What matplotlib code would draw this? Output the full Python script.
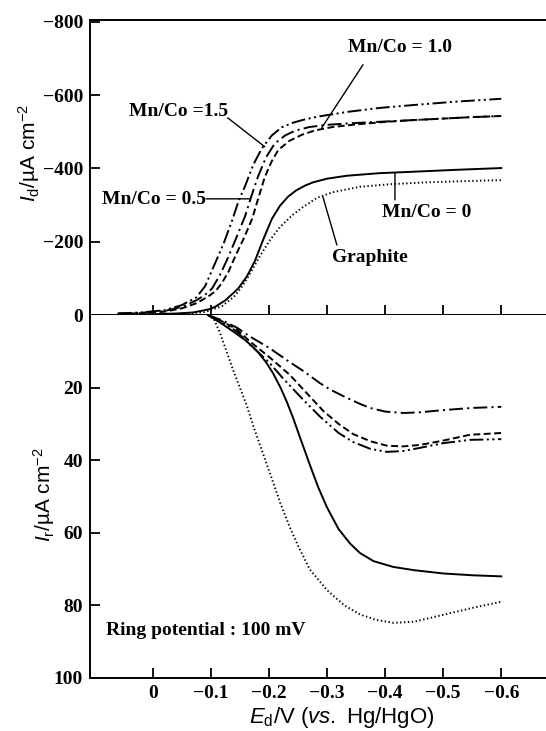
import matplotlib
matplotlib.use("Agg")
import matplotlib.pyplot as plt

# ---- data (E in V, currents in uA cm^-2) ----
# disk current, upper panel
E_d_15 = [0.06, 0.02, -0.02, -0.05, -0.075, -0.09, -0.107, -0.122, -0.136, -0.148, -0.159,
          -0.173, -0.188, -0.205, -0.222, -0.24, -0.26, -0.283, -0.334, -0.39, -0.449,
          -0.52, -0.6]
I_d_15 = [-4, -7, -13, -27, -48, -78, -140, -195, -255, -312, -352, -410, -455, -490,
          -512, -524, -533, -541, -554, -565, -573, -582, -590]

E_d_10 = [0.06, 0.02, -0.02, -0.05, -0.075, -0.09, -0.102, -0.116, -0.13, -0.145, -0.159,
          -0.17, -0.181, -0.195, -0.21, -0.228, -0.245, -0.27, -0.3, -0.35, -0.4, -0.45,
          -0.5, -0.55, -0.6]
I_d_10 = [-4, -6, -11, -22, -40, -55, -72, -110, -158, -215, -270, -325, -377, -430,
          -468, -490, -503, -513, -519, -524, -528, -532, -536, -540, -543]

E_d_05 = [0.06, 0.02, -0.02, -0.05, -0.075, -0.095, -0.108, -0.119, -0.131, -0.142,
          -0.157, -0.171, -0.182, -0.193, -0.205, -0.216, -0.235, -0.257, -0.28, -0.31,
          -0.35, -0.4, -0.45, -0.5, -0.55, -0.6]
I_d_05 = [-3, -5, -9, -18, -32, -50, -65, -87, -120, -160, -210, -262, -320, -377, -420,
          -450, -475, -492, -504, -513, -520, -527, -532, -536, -540, -543]

E_d_00 = [0.06, 0.0, -0.04, -0.07, -0.098, -0.107, -0.125, -0.147, -0.162, -0.176, -0.19,
          -0.205, -0.219, -0.233, -0.247, -0.262, -0.276, -0.3, -0.334, -0.39, -0.449,
          -0.52, -0.6]
I_d_00 = [-1, -2, -4, -7, -16, -22, -40, -72, -105, -148, -205, -262, -298, -323, -340,
          -353, -362, -372, -380, -387, -391, -396, -401]

E_d_gr = [0.06, 0.0, -0.05, -0.09, -0.12, -0.14, -0.155, -0.17, -0.185, -0.202, -0.219,
          -0.24, -0.259, -0.283, -0.31, -0.357, -0.41, -0.472, -0.53, -0.6]
I_d_gr = [0, -1, -3, -8, -25, -50, -80, -120, -162, -205, -240, -272, -295, -320, -335,
          -350, -357, -362, -365, -368]

# ring current, lower panel
E_r_10 = [-0.095, -0.12, -0.145, -0.168, -0.2, -0.236, -0.26, -0.288, -0.305, -0.33,
          -0.357, -0.374, -0.4, -0.432, -0.46, -0.5, -0.55, -0.6]
I_r_10 = [0, 1.5, 3.5, 6, 9, 13, 15.5, 18.8, 20.5, 22.5, 24.5, 25.6, 26.6, 27, 26.8,
          26.2, 25.6, 25.3]

E_r_05 = [-0.095, -0.12, -0.145, -0.168, -0.2, -0.236, -0.265, -0.294, -0.32, -0.345,
          -0.375, -0.403, -0.43, -0.46, -0.5, -0.546, -0.6]
I_r_05 = [0, 1.8, 4, 7.4, 11.5, 16.5, 21.5, 26.5, 30, 32.8, 34.8, 36, 36.2, 35.8, 34.6,
          33, 32.5]

E_r_15 = [-0.095, -0.12, -0.145, -0.168, -0.2, -0.224, -0.26, -0.288, -0.32, -0.345,
          -0.375, -0.403, -0.43, -0.46, -0.5, -0.546, -0.6]
I_r_15 = [0, 2, 4.6, 8.3, 13, 17.4, 23.5, 28, 32.5, 35, 36.9, 37.7, 37.5, 36.6, 35.3,
          34.4, 34.2]

E_r_00 = [-0.095, -0.12, -0.138, -0.16, -0.179, -0.195, -0.207, -0.22, -0.231, -0.242,
          -0.253, -0.271, -0.285, -0.3, -0.32, -0.34, -0.357, -0.38, -0.414, -0.45, -0.5,
          -0.55, -0.6]
I_r_00 = [0, 2.5, 4.5, 7, 9.8, 13, 16, 20, 24, 28.5, 33.5, 41.5, 47.5, 53, 59, 63, 65.6,
          67.8, 69.4, 70.3, 71.2, 71.7, 72]

E_r_gr = [-0.095, -0.105, -0.116, -0.127, -0.138, -0.15, -0.162, -0.174, -0.185, -0.196,
          -0.207, -0.22, -0.236, -0.25, -0.27, -0.3, -0.33, -0.357, -0.385, -0.414, -0.45,
          -0.5, -0.55, -0.6]
I_r_gr = [0, 1, 5, 10, 15, 20, 25, 31, 36, 41, 46, 52, 58.5, 63.5, 70, 75.8, 80, 82.5,
          84, 84.8, 84.5, 82.6, 80.7, 79]

x_ticks = [0, -0.1, -0.2, -0.3, -0.4, -0.5, -0.6]
x_ticklabels = ["0", "\u22120.1", "\u22120.2", "\u22120.3", "\u22120.4", "\u22120.5", "\u22120.6"]
yd_ticks = [-800, -600, -400, -200, 0]
yd_ticklabels = ["\u2212800", "\u2212600", "\u2212400", "\u2212200", "0"]
yr_ticks = [20, 40, 60, 80, 100]
yr_ticklabels = ["20", "40", "60", "80", "100"]

# ---- styling ----
plt.rcParams["lines.scale_dashes"] = False
plt.rcParams["mathtext.fontset"] = "custom"
plt.rcParams["mathtext.rm"] = "Liberation Sans"
plt.rcParams["mathtext.it"] = "Liberation Sans:italic"

SERIF = dict(family="Liberation Serif", weight="bold", size=14)
SANS = dict(family="Liberation Sans", size=16)
SANS_Y = dict(family="Liberation Sans", size=15)
LW = 1.4
DASHDOTDOT = (0, (10, 2.5, 1.5, 2.5, 1.5, 2.5))
DASHDOT = (0, (10, 3, 1.5, 3))
DASHED = (0, (5, 2.5))
DOTTED = (0, (1, 1.8))

W, H = 546, 731
fig = plt.figure(figsize=(W / 100, H / 100), dpi=100)


def frac(x0, y0, x1, y1):
    return [x0 / W, 1 - y1 / H, (x1 - x0) / W, (y1 - y0) / H]


ax1 = fig.add_axes(frac(90, 20, 546, 315))
ax2 = fig.add_axes(frac(90, 315, 546, 678))

for ax in (ax1, ax2):
    ax.set_xlim(0.108, -0.677)
    ax.spines["right"].set_visible(False)
    for s in ax.spines.values():
        s.set_linewidth(1.4)
    ax.tick_params(direction="in", length=7, width=1.3, pad=5)
    ax.set_xticks(x_ticks)

ax1.set_ylim(0, -805)
ax2.set_ylim(100, 0)
ax2.spines["top"].set_visible(False)

# upper panel: disk current
ax1.plot(E_d_15, I_d_15, color="k", lw=LW, linestyle=DASHDOTDOT)
ax1.plot(E_d_10, I_d_10, color="k", lw=LW, linestyle=DASHDOT)
ax1.plot(E_d_05, I_d_05, color="k", lw=LW, linestyle=DASHED)
ax1.plot(E_d_00, I_d_00, color="k", lw=LW, linestyle="-")
ax1.plot(E_d_gr, I_d_gr, color="k", lw=LW, linestyle=DOTTED)

ax1.set_yticks(yd_ticks)
ax1.set_yticklabels(yd_ticklabels, fontdict=SERIF)
ax1.set_xticklabels([])

# lower panel: ring current
ax2.plot(E_r_10, I_r_10, color="k", lw=LW, linestyle=DASHDOT)
ax2.plot(E_r_05, I_r_05, color="k", lw=LW, linestyle=DASHED)
ax2.plot(E_r_15, I_r_15, color="k", lw=LW, linestyle=DASHDOTDOT)
ax2.plot(E_r_00, I_r_00, color="k", lw=LW, linestyle="-")
ax2.plot(E_r_gr, I_r_gr, color="k", lw=LW, linestyle=DOTTED)

ax2.set_yticks(yr_ticks)
ax2.set_yticklabels(yr_ticklabels, fontdict=SERIF)
ax2.set_xticklabels(x_ticklabels, fontdict=SERIF)

# labels with leader lines
line = dict(arrowstyle="-", color="k", lw=1.0, shrinkA=0, shrinkB=0)
ax1.text(-0.426, -729, "Mn/Co = 1.0", ha="center", va="center", **SERIF)
ax1.annotate("", xy=(-0.291, -511), xytext=(-0.362, -683), arrowprops=line)
ax1.text(-0.044, -554, "Mn/Co =1.5", ha="center", va="center", **SERIF)
ax1.annotate("", xy=(-0.193, -459), xytext=(-0.129, -538), arrowprops=line)
ax1.text(-0.092, -314, "Mn/Co = 0.5", ha="right", va="center", **SERIF)
ax1.annotate("", xy=(-0.167, -317), xytext=(-0.092, -317), arrowprops=line)
ax1.text(-0.471, -281, "Mn/Co = 0", ha="center", va="center", **SERIF)
ax1.annotate("", xy=(-0.417, -388), xytext=(-0.417, -314), arrowprops=line)
ax1.text(-0.373, -158, "Graphite", ha="center", va="center", **SERIF)
ax1.annotate("", xy=(-0.293, -322), xytext=(-0.317, -191), arrowprops=line)

ax2.text(-0.092, 86.8, "Ring potential : 100 mV", ha="center", va="center", **SERIF)

# axis titles
fig.text(29 / W, 1 - 153 / H, "$I_\\mathrm{d}$/\u00b5A cm$^{-2}$", rotation=90,
         ha="center", va="center", **SANS_Y)
fig.text(44 / W, 1 - 495 / H, "$I_\\mathrm{r}$/\u00b5A cm$^{-2}$", rotation=90,
         ha="center", va="center", **SANS_Y)
fig.text(342 / W, 1 - 717 / H, "$E_\\mathrm{d}$/V ($vs.$ Hg/HgO)",
         ha="center", va="center", **SANS)

fig.savefig("out.png", dpi=100)
